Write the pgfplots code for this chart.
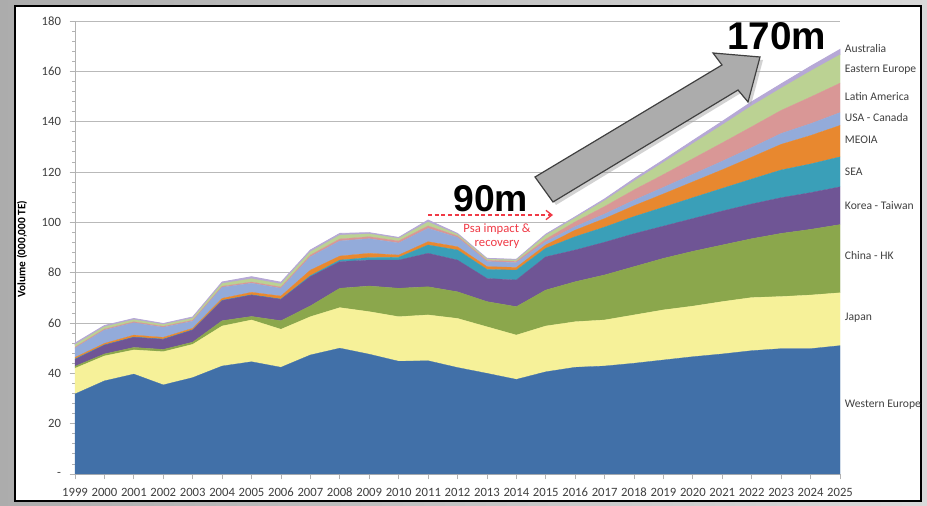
\documentclass[border=0pt]{standalone}
\usepackage{fontspec}
\setmainfont{Carlito}
\newfontfamily\arialf{Liberation Sans}
\usepackage{pgfplots}
\pgfplotsset{compat=1.18}
\usepackage{pgfplotstable}
\usetikzlibrary{arrows.meta}

\definecolor{cWE}{HTML}{4170A8}
\definecolor{cJP}{HTML}{F6F199}
\definecolor{cCN}{HTML}{8BA74C}
\definecolor{cKR}{HTML}{6F5595}
\definecolor{cSEA}{HTML}{3A9FB8}
\definecolor{cME}{HTML}{E8882F}
\definecolor{cUS}{HTML}{93ABDA}
\definecolor{cLA}{HTML}{D99796}
\definecolor{cEE}{HTML}{BBD293}
\definecolor{cAU}{HTML}{B6A8D6}
\definecolor{labgray}{HTML}{404040}
\definecolor{psared}{HTML}{F03A46}

\tikzset{serlab/.style={anchor=west, xshift=3.5pt, font=\fontsize{8.7}{10}\selectfont, text=labgray, inner sep=0pt}}

\pgfplotstableread{
year WE JP CN KR SEA ME US LA EE AU
1999 31.8 10.2 0.8 2.7 0.2 0.6 3.7 0.4 1.0 0.6
2000 37.0 9.9 0.8 3.5 0.1 0.6 5.3 0.4 0.9 0.5
2001 39.7 9.6 1.0 4.0 0.1 0.8 4.9 0.4 0.8 0.5
2002 35.4 13.2 0.9 4.0 0.1 0.7 4.0 0.4 0.7 0.4
2003 38.3 13.2 0.9 4.8 0.1 0.6 2.8 0.4 0.8 0.5
2004 42.9 15.9 2.1 8.0 0.1 0.8 4.4 0.4 1.1 0.6
2005 44.6 16.6 1.4 8.5 0.1 1.0 3.6 0.5 1.3 0.8
2006 42.4 15.1 3.4 8.5 0.1 1.2 3.1 0.5 1.2 0.7
2007 47.3 15.2 4.3 11.6 0.4 2.2 5.3 0.7 1.3 0.7
2008 50.0 16.1 7.7 10.6 0.6 1.6 6.0 0.8 1.5 0.7
2009 47.6 16.9 10.2 10.3 1.0 1.7 5.8 0.8 1.1 0.5
2010 44.8 17.7 11.3 11.2 1.1 0.9 4.8 0.8 1.0 0.4
2011 45.0 18.2 11.2 13.3 3.3 1.3 5.3 1.0 1.5 0.8
2012 42.3 19.5 10.6 12.6 4.0 1.3 3.7 0.6 0.6 0.4
2013 40.0 18.5 10.0 9.2 3.6 1.1 2.0 0.5 0.5 0.3
2014 37.6 17.6 11.3 10.6 3.9 1.1 1.9 0.5 0.5 0.3
2015 40.6 18.2 14.3 13.2 3.4 1.3 1.3 1.0 1.5 0.5
2016 42.4 18.1 15.9 12.6 5.3 2.6 1.4 1.9 1.5 0.5
2017 42.9 18.3 17.9 13.0 6.0 3.4 1.8 3.0 2.3 0.7
2018 44.0 19.2 19.2 13.1 6.8 4.3 2.2 4.1 3.5 0.9
2019 45.3 19.9 20.5 12.8 7.5 5.3 2.6 5.1 4.8 1.0
2020 46.6 20.1 21.8 13.0 8.3 6.3 3.0 6.2 6.0 1.2
2021 47.7 20.8 22.5 13.5 9.0 7.4 3.4 7.3 7.1 1.4
2022 49.0 21.1 23.4 13.8 9.9 8.7 3.8 8.3 8.3 1.6
2023 49.8 20.7 25.1 14.2 11.0 10.2 4.3 9.2 8.8 1.7
2024 49.8 21.3 26.1 14.6 11.4 11.3 4.7 10.6 10.3 1.9
2025 51.0 21.0 27.1 15.0 11.9 12.5 5.1 11.7 11.3 2.1
}\data

\begin{document}
\begin{tikzpicture}
% background frame in pixel coordinates of the 927x506 reference
\begin{scope}[shift={(-56.25pt,355.5pt)}, x=0.75pt, y=-0.75pt]
  \shade[left color=gray!65, right color=gray!30] (0,0) rectangle (927,506);
  \fill[white] (15,6) rectangle (921,501);
  \draw[black, line width=1.5pt] (15,6) rectangle (921,501);
\end{scope}

\begin{axis}[
  at={(0,0)}, anchor=south west, scale only axis,
  width=573.75pt, height=339.75pt,
  xmin=1999, xmax=2025, ymin=0, ymax=180,
  stack plots=y,
  clip=false,
  axis lines*=left,
  axis line style={draw=gray!60, line width=0.7pt, -},
  ymajorgrids, grid style={draw=gray!55, line width=0.6pt},
  ytick={0,20,40,60,80,100,120,140,160,180},
  yticklabels={-,20,40,60,80,100,120,140,160,180},
  minor y tick num=4,
  xtick={1999,2000,...,2025},
  tick align=outside,
  major tick length=4pt, minor tick length=2pt,
  tick style={draw=gray!60, line width=0.6pt},
  /pgf/number format/assume math mode=true,
  /pgf/number format/1000 sep={},
  tick label style={font=\fontsize{9.5}{11}\selectfont, text=labgray},
  yticklabel style={xshift=-3pt},
  xticklabel style={yshift=-3pt},
]
\addplot[fill=cWE, draw=cWE, line width=0.2pt] table[x=year,y=WE]{\data} \closedcycle;
\addplot[fill=cJP, draw=cJP, line width=0.2pt] table[x=year,y=JP]{\data} \closedcycle;
\addplot[fill=cCN, draw=cCN, line width=0.2pt] table[x=year,y=CN]{\data} \closedcycle;
\addplot[fill=cKR, draw=cKR, line width=0.2pt] table[x=year,y=KR]{\data} \closedcycle;
\addplot[fill=cSEA, draw=cSEA, line width=0.2pt] table[x=year,y=SEA]{\data} \closedcycle;
\addplot[fill=cME, draw=cME, line width=0.2pt] table[x=year,y=ME]{\data} \closedcycle;
\addplot[fill=cUS, draw=cUS, line width=0.2pt] table[x=year,y=US]{\data} \closedcycle;
\addplot[fill=cLA, draw=cLA, line width=0.2pt] table[x=year,y=LA]{\data} \closedcycle;
\addplot[fill=cEE, draw=cEE, line width=0.2pt] table[x=year,y=EE]{\data} \closedcycle;
\addplot[fill=cAU, draw=cAU, line width=0.6pt] table[x=year,y=AU]{\data} \closedcycle;

\node[serlab] at (axis cs:2025,169.2) {Australia};
\node[serlab] at (axis cs:2025,160.5) {Eastern Europe};
\node[serlab] at (axis cs:2025,149.8) {Latin America};
\node[serlab] at (axis cs:2025,141.5) {USA - Canada};
\node[serlab] at (axis cs:2025,132.7) {MEOIA};
\node[serlab] at (axis cs:2025,120.0) {SEA};
\node[serlab] at (axis cs:2025,106.5) {Korea - Taiwan};
\node[serlab] at (axis cs:2025,86.8) {China - HK};
\node[serlab] at (axis cs:2025,62.0) {Japan};
\node[serlab] at (axis cs:2025,27.4) {Western Europe};
\end{axis}

% overlay in pixel coordinates of the 927x506 reference
\begin{scope}[shift={(-56.25pt,355.5pt)}, x=0.75pt, y=-0.75pt]
  \node[rotate=90, font=\fontsize{8.5}{10}\selectfont\bfseries, text=black] at (22,249) {Volume (000,000 TE)};
  \fill[black!35, opacity=0.5] (556,205) -- (538,180) -- (725,68) -- (716,56) -- (763,60) -- (751,105) -- (741,93) -- cycle;
  \draw[fill=gray!65, draw=black!75, line width=0.9pt, line join=miter]
    (553,202) -- (535,177) -- (722,65) -- (713,53) -- (760,57) -- (748,102) -- (738,90) -- cycle;
  \node[anchor=base west, inner sep=0pt, font=\arialf\bfseries\fontsize{28}{30}\selectfont] at (453,212) {90m};
  \node[anchor=base west, inner sep=0pt, font=\arialf\bfseries\fontsize{29}{31}\selectfont] at (727,50) {170m};
  \draw[draw=psared, dash pattern=on 3pt off 2pt, line width=1pt, -{Straight Barb[length=4.5pt,width=7pt,line width=1pt]}] (428,215) -- (553,215);
  \node[align=center, inner sep=0pt, text=psared, font=\fontsize{9.5}{10.5}\selectfont] at (497,236) {Psa impact \&\\recovery};
\end{scope}
\end{tikzpicture}
\end{document}
